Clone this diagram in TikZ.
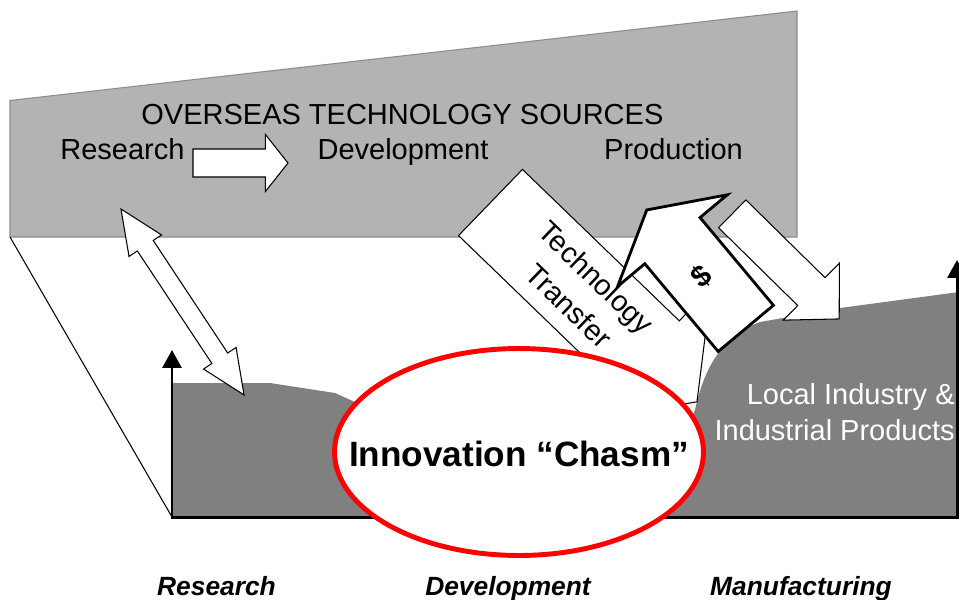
\documentclass[tikz,border=0pt]{standalone}
\usepackage{fontspec}
\setmainfont{Liberation Sans}
\usepackage{tikz}
\usetikzlibrary{arrows.meta, shapes.geometric}
\definecolor{boxfill}{RGB}{179, 179, 179}
\definecolor{boxborder}{RGB}{140, 140, 140}
\definecolor{groundfill}{RGB}{128, 128, 128}
\definecolor{chasmred}{RGB}{255, 0, 0}
\tikzstyle{lbl} = [inner sep=0pt, font=\fontsize{16.5}{20}\selectfont]
\tikzstyle{stagelbl} = [inner sep=0pt, font=\fontsize{15}{18}\selectfont\bfseries\itshape]
\tikzstyle{flowarrow} = [draw=black, fill=white, line width=0.6pt, line join=miter]
\tikzstyle{moneyarrow} = [flowarrow, line width=1.6pt]
\tikzstyle{axisline} = [line width=1.7pt, line join=miter,
                        {Triangle[width=10.8pt, length=10.2pt]}-{Triangle[width=10.8pt, length=10.2pt]}]
\tikzstyle{chasm} = [ellipse, draw=chasmred, line width=2.8pt, fill=white, inner sep=0pt,
                     minimum width=7.38cm, minimum height=4.14cm]
% block arrow: [style]{origin}{angle}{length}{body half}{head half}{head length}
\newcommand{\blockarrow}[7][]{%
  \draw[shift={#2}, rotate=#3, #1] (0,-#5) -- ({#4-#7},-#5) -- ({#4-#7},-#6) -- (#4,0)
    -- ({#4-#7},#6) -- ({#4-#7},#5) -- (0,#5) -- cycle;}
\newcommand{\dblarrow}[7][]{%
  \draw[shift={#2}, rotate=#3, #1] (0,0) -- (#7,-#6) -- (#7,-#5) -- ({#4-#7},-#5) -- ({#4-#7},-#6)
    -- (#4,0) -- ({#4-#7},#6) -- ({#4-#7},#5) -- (#7,#5) -- (#7,#6) -- cycle;}

\begin{document}
\begin{tikzpicture}[x=0.02cm, y=-0.02cm]
    \useasboundingbox (0,0) rectangle (959,599);

    % Overseas sources
    \draw[fill=boxfill, draw=boxborder, line width=0.6pt] (10,100.5) -- (797,11) -- (797,237) -- (10,237) -- cycle;
    \draw[line width=0.6pt] (10,237) -- (172,517);

    % Local ground
    \fill[groundfill] (172,517) -- (172,383) -- (270,383) -- (335,393) -- (355,402) -- (380,430) -- (400,517) -- cycle;
    \fill[groundfill] (959,517) -- (959,292) -- (840,308) -- (760,322)
        .. controls (722,336) and (704,368) .. (695,410) -- (650,517) -- cycle;
    \draw[axisline] (172,350) -- (172,517) -- (957,517) -- (957,260);

    % Arrows
    \blockarrow[flowarrow]{(193,163)}{0}{95}{14}{28.5}{22.6}
    \blockarrow[flowarrow]{(490.5,202.5)}{-44}{287}{46}{92}{69}
    \blockarrow[moneyarrow]{(745.8,328.4)}{129.9}{154.4}{36}{71.5}{40}
    \blockarrow[flowarrow]{(732.2,213.8)}{-44.5}{150}{19.5}{40}{39}
    \dblarrow[flowarrow]{(121,209)}{-56.5}{223}{9.5}{19.5}{44}

    % Chasm
    \node[chasm] (chasm) at (519,452) {};
    \node[inner sep=0pt, font=\fontsize{20}{24}\selectfont\bfseries] (chasmtext) at (519,454) {Innovation “Chasm”};

    % Labels
    \node[lbl, anchor=base] (overseas) at (402.4,124) {OVERSEAS TECHNOLOGY SOURCES};
    \node[lbl, anchor=base] (research) at (122.4,159.5) {Research};
    \node[lbl, anchor=base] (development) at (403,159.5) {Development};
    \node[lbl, anchor=base] (production) at (673.5,159.5) {Production};
    \node[lbl, align=center, rotate=-44, font=\fontsize{16.5}{22.5}\selectfont] (transfer) at (582.5,291.5) {Technology\\Transfer};
    \node[lbl, rotate=40, font=\fontsize{17}{20}\selectfont\bfseries] (dollar) at (701.7,276.7) {\$};
    \node[lbl, text=white, anchor=base east] (local) at (955,404) {Local Industry \&};
    \node[lbl, text=white, anchor=base east] (products) at (955,440.7) {Industrial Products};
    \node[stagelbl, anchor=base] (stageres) at (216.5,595) {Research};
    \node[stagelbl, anchor=base] (stagedev) at (508,595) {Development};
    \node[stagelbl, anchor=base] (stageman) at (801,595) {Manufacturing};
\end{tikzpicture}
\end{document}
